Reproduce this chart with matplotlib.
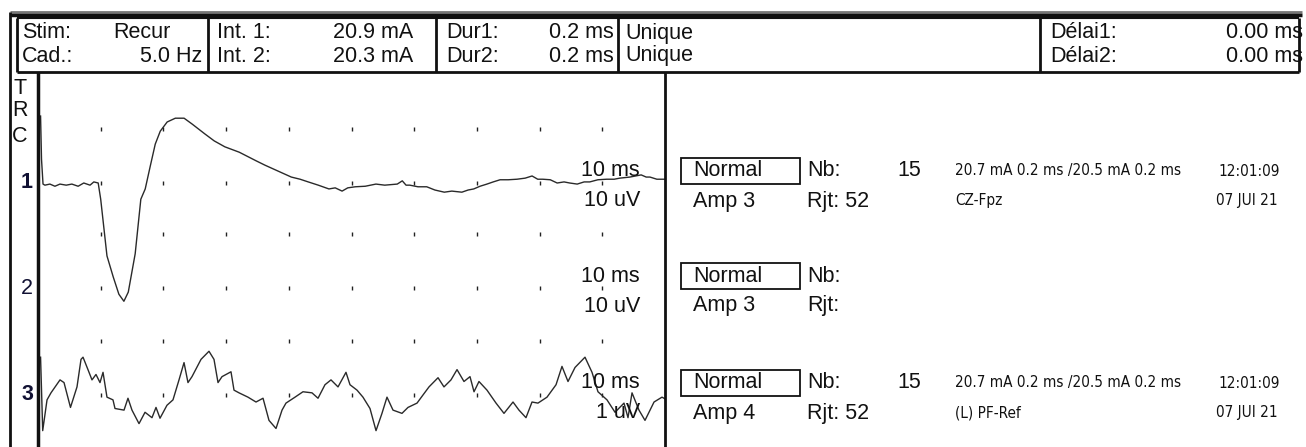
import matplotlib
matplotlib.use('Agg')
import matplotlib.pyplot as plt
from matplotlib.patches import Rectangle
from matplotlib import font_manager

plt.rcParams['font.family'] = ['Liberation Sans', 'DejaVu Sans']

W, H = 1306, 447

# channel 1 : CZ-Fpz, time in ms, amplitude in uV
t1 = [0.41, 0.56, 0.8, 1.1, 1.9, 2.7, 3.5, 4.5, 5.4, 6.4, 7.3, 8.3, 8.9, 9.6,
      10.0, 11.0, 12.0, 12.9, 13.7, 14.4, 15.5, 16.4, 17.1, 17.9, 18.7, 19.5,
      20.6, 21.9, 23.3, 24.6, 26.6, 28.1, 29.8, 32.1, 34.8, 36.2, 38.3, 40.4,
      41.8, 43.1, 44.7, 46.4, 47.4, 48.5, 49.4, 50.6, 52.2, 53.9, 55.3, 57.3,
      58.1, 58.7, 59.3, 60.6, 62.0, 63.3, 64.8, 66.0, 67.6, 68.6, 69.5, 70.5,
      71.6, 72.6, 73.7, 75.0, 76.4, 77.7, 78.8, 79.7, 80.5, 81.7, 82.8, 83.9,
      84.8, 86.0, 87.1, 88.0, 89.3, 90.7, 91.9, 92.8, 94.4, 96.2, 97.0, 97.6,
      98.7, 100.3]
v1 = [12.4, 4.4, -0.2, -0.4, -0.2, -0.6, -0.2, -0.4, -0.2, -0.6, 0.0, -0.4, 0.2, 0.0,
      -3.0, -13.5, -17.4, -20.6, -21.9, -20.2, -13.1, -3.0, -1.1, 3.1, 7.2, 9.6,
      11.3, 12.0, 12.0, 10.9, 9.1, 7.8, 6.7, 5.7, 4.1, 3.3, 2.2, 1.1,
      0.7, 0.2, -0.4, -1.1, -0.9, -1.5, -0.9, -0.7, -0.6, -0.2, -0.4, -0.2,
      0.4, -0.4, -0.4, -0.7, -0.7, -1.3, -1.7, -1.5, -1.7, -1.3, -1.1, -0.6,
      -0.2, 0.2, 0.6, 0.6, 0.7, 0.9, 1.3, 0.7, 0.7, 0.6, 0.0, 0.2,
      0.0, -0.2, 0.2, 0.2, 0.6, 0.7, 0.7, 0.9, 1.1, 1.5, 1.1, 1.1,
      0.7, 0.7]

# channel 3 : (L) PF-Ref
t3 = [0.41, 0.75, 1.44, 2.07, 3.51, 4.15, 5.18, 6.22, 6.86, 7.18, 7.97, 8.61,
      9.25, 9.89, 10.37, 11.0, 11.96, 12.28, 13.72, 14.35, 14.99, 16.11, 17.07,
      18.18, 18.82, 19.46, 20.57, 21.53, 22.49, 23.29, 23.92, 24.56, 26.0, 27.27,
      28.07, 28.71, 29.35, 30.78, 31.26, 32.06, 33.49, 34.77, 35.89, 36.84, 37.96,
      38.92, 39.55, 40.99, 42.26, 43.70, 44.66, 45.77, 46.73, 47.85, 49.12, 49.76,
      50.88, 51.83, 52.95, 53.91, 54.86, 55.66, 56.62, 58.05, 59.01, 60.45, 61.40,
      62.36, 63.80, 64.75, 65.87, 66.83, 67.94, 68.90, 69.54, 70.33, 71.61, 73.05,
      74.32, 75.76, 76.71, 77.83, 78.79, 79.74, 81.18, 82.62, 83.57, 84.53, 85.65,
      87.24, 88.36, 89.31, 90.75, 92.03, 93.46, 94.10, 94.74, 95.85, 96.81, 98.25,
      99.52, 100.3]
v3 = [0.70, -0.66, -0.09, 0.04, 0.28, 0.23, -0.23, 0.15, 0.66, 0.70, 0.47, 0.28,
      0.38, 0.23, 0.42, -0.04, -0.09, -0.25, -0.28, -0.06, -0.28, -0.53, -0.32,
      -0.42, -0.23, -0.43, -0.19, -0.09, 0.28, 0.60, 0.23, 0.34, 0.66, 0.81,
      0.66, 0.23, 0.34, 0.43, 0.09, 0.04, -0.04, -0.13, -0.06, -0.47, -0.62,
      -0.28, -0.15, -0.04, 0.06, 0.04, -0.06, 0.19, 0.28, 0.15, 0.42, 0.19,
      0.09, -0.04, -0.25, -0.66, -0.34, -0.04, -0.28, -0.34, -0.23, -0.15, 0.0,
      0.15, 0.32, 0.15, 0.28, 0.47, 0.25, 0.34, 0.06, 0.25, 0.09, -0.15,
      -0.34, -0.13, -0.28, -0.42, -0.13, -0.15, -0.04, 0.19, 0.53, 0.25, 0.51,
      0.70, 0.42, 0.06, -0.09, -0.32, -0.15, -0.42, 0.04, -0.28, -0.47, -0.13,
      -0.04, -0.09]

grid_ms = [10, 20, 30, 40, 50, 60, 70, 80, 90]

# per channel: label, bold, zero line (px), px per unit, units per division, scale labels
ch_label = ['1', '2', '3']
ch_bold = [True, False, True]
ch_zero = [183, 288, 395]
ch_gain = [5.4, 5.4, 54.0]
ch_div = [10, 10, 1]
ch_time_lbl = ['10 ms', '10 ms', '10 ms']
ch_amp_lbl = ['10 uV', '10 uV', '1 uV']
ch_amp = ['Amp 3', 'Amp 3', 'Amp 4']
ch_nb = ['15', '', '15']
ch_rjt = ['Rjt: 52', 'Rjt:', 'Rjt: 52']
ch_stim = ['20.7 mA 0.2 ms /20.5 mA 0.2 ms', '', '20.7 mA 0.2 ms /20.5 mA 0.2 ms']
ch_deriv = ['CZ-Fpz', '', '(L) PF-Ref']
ch_time = ['12:01:09', '', '12:01:09']
ch_date = ['07 JUI 21', '', '07 JUI 21']
traces = [(t1, v1), None, (t3, v3)]


def narrow_font():
    # condensed face for the small print if one is installed
    try:
        font_manager.findfont(font_manager.FontProperties(family='Liberation Sans Narrow'),
                              fallback_to_default=False)
        return dict(family='Liberation Sans Narrow', fontsize=12.5)
    except Exception:
        pass
    f = font_manager.findfont(font_manager.FontProperties(family='DejaVu Sans', stretch='condensed'))
    if 'Condensed' in f:
        return dict(family='DejaVu Sans', fontstretch='condensed', fontsize=11)
    return dict(family='Liberation Sans', fontsize=10.8)


NK = narrow_font()
NK.update(va='center', color='#111111')

fig = plt.figure(figsize=(W / 100, H / 100), dpi=100)

# trace area in pixels
X0, X1, Y0, Y1 = 38, 665, 72, 447
pos = [X0 / W, (H - Y1) / H, (X1 - X0) / W, (Y1 - Y0) / H]
for i in range(3):
    ax = fig.add_axes(pos, label=f'ch{i}')
    ax.patch.set_alpha(0)
    ax.axis('off')
    ax.set_xlim(0, 100)
    z, g = ch_zero[i], ch_gain[i]
    ax.set_ylim((z - Y1) / g, (z - Y0) / g)
    for lvl in (0, ch_div[i]):
        ax.plot(grid_ms, [lvl] * len(grid_ms), ls='', marker='|', ms=3,
                mew=1, color='#222222')
    if traces[i] is not None:
        t, v = traces[i]
        ax.plot(t, v, color='#2a2a2a', lw=1.0)

# overlay in pixel coordinates for frame and text
ov = fig.add_axes([0, 0, 1, 1], label='overlay')
ov.patch.set_alpha(0)
ov.axis('off')
ov.set_xlim(0, W)
ov.set_ylim(H, 0)

FS = 15.5
k = dict(fontsize=FS, va='center', color='#111111')

# header texts
r1, r2 = 33, 56
ov.text(22, r1, 'Stim:', **k)
ov.text(113, r1, 'Recur', **k)
ov.text(22, r2, 'Cad.:', **k)
ov.text(202, r2, '5.0 Hz', ha='right', **k)
ov.text(217, r1, 'Int. 1:', **k)
ov.text(413, r1, '20.9 mA', ha='right', **k)
ov.text(217, r2, 'Int. 2:', **k)
ov.text(413, r2, '20.3 mA', ha='right', **k)
ov.text(446, r1, 'Dur1:', **k)
ov.text(614, r1, '0.2 ms', ha='right', **k)
ov.text(446, r2, 'Dur2:', **k)
ov.text(614, r2, '0.2 ms', ha='right', **k)
ov.text(625, r1, 'Unique', **k)
ov.text(625, r2, 'Unique', **k)
ov.text(1050, r1, 'Délai1:', **k)
ov.text(1303, r1, '0.00 ms', ha='right', **k)
ov.text(1050, r2, 'Délai2:', **k)
ov.text(1303, r2, '0.00 ms', ha='right', **k)

# TRC label
for ch, yy in zip('TRC', [88, 111, 137]):
    ov.text(20, yy, ch, ha='center', **k)

for i in range(3):
    z = ch_zero[i]
    ov.text(27, z, ch_label[i], ha='center', fontsize=FS,
            fontweight='bold' if ch_bold[i] else 'normal', va='center',
            color='#111133')
    ty, ay = z - 12, z + 18
    ov.text(640, ty, ch_time_lbl[i], ha='right', **k)
    ov.text(640, ay, ch_amp_lbl[i], ha='right', **k)
    # right panel
    ov.add_patch(Rectangle((681, ty - 13), 119, 26, fill=False, lw=1.3,
                           ec='#111111'))
    ov.text(693, ty, 'Normal', **k)
    ov.text(807, ty, 'Nb:', **k)
    ov.text(897, ty, ch_nb[i], **k)
    ov.text(955, ty, ch_stim[i], **NK)
    ov.text(1280, ty, ch_time[i], ha='right', **NK)
    ov.text(693, ay, ch_amp[i], **k)
    ov.text(807, ay, ch_rjt[i], **k)
    ov.text(955, ay, ch_deriv[i], **NK)
    ov.text(1278, ay, ch_date[i], ha='right', **NK)

# frame lines
ln = dict(color='#111111', solid_capstyle='butt')
ov.plot([10, 1302], [12, 12], lw=2, color='#777777', solid_capstyle='butt')
ov.plot([10, 1302], [15, 15], lw=2.5, **ln)
ov.plot([10, 10], [12, H], lw=2, **ln)
ov.plot([17, 1299], [18, 18], lw=1.5, **ln)
ov.plot([17, 1299], [72, 72], lw=2, **ln)
for xd in [17, 208, 436, 618, 1040, 1299]:
    ov.plot([xd, xd], [18, 72], lw=2, **ln)
ov.plot([X0, X0], [72, H], lw=2.5, **ln)
ov.plot([X1, X1], [72, H], lw=2, **ln)

fig.savefig('out.png', dpi=100)
